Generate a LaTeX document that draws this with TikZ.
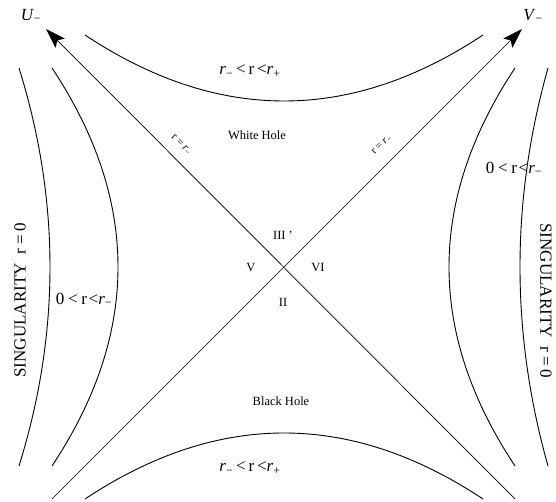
\documentclass[tikz,border=0pt]{standalone}
\usepackage{fontspec}
\setmainfont{Liberation Serif}
\usetikzlibrary{arrows.meta, calc}
\definecolor{ink}{HTML}{000000}
% constant-r branch: rotation, vertex distance, end distance
\NewDocumentCommand{\Branch}{O{0} m m}{
    \begin{scope}[rotate=#1]
    \draw[curve] (-199,#3) .. controls (-66.3,{#3+4/3*(#2-#3)}) and (66.3,{#3+4/3*(#2-#3)}) .. (199,#3);
    \end{scope}
}
\newcommand{\Canvas}{
\useasboundingbox (-284,-235) rectangle (272,267);
    \coordinate (center) at (0,0);
    \coordinate (south-west) at (-232,-232);
    \coordinate (north-east) at ( 238, 238);
    \coordinate (south-east) at ( 231,-232);
    \coordinate (north-west) at (-238, 238);
}

\begin{document}
\begin{tikzpicture}[x=1pt, y=1pt,
    curve/.style={ink, line width=0.9pt},
    axis/.style={ink, line width=0.7pt},
    tip/.style={-{Stealth[length=20pt, width=13pt, inset=4pt]}},
    big/.style={font=\fontsize{17}{20}\selectfont},
    mid/.style={font=\fontsize{12.5}{15}\selectfont},
    small/.style={font=\fontsize{11}{13}\selectfont}]
\Canvas

\draw[axis, tip] (south-east) -- (north-west);
\draw[axis, tip] (south-west) -- (north-east);

\Branch{166}{232}
\Branch[180]{166}{232}
\Branch[90]{166}{232}
\Branch[90]{234}{265}
\Branch[-90]{165}{231}
\Branch[-90]{236}{264}

\node[big] (U) at (-253,251) {\textit{U}\textsubscript{−}};
\node[big] (V) at (249,251) {\textit{V}\textsubscript{−}};

\node[big] (top-band) at (-34,196) {\textit{r}\textsubscript{−}\,<\,r\,<\textit{r}\textsubscript{+}};
\node[big] (bottom-band) at (-34,-201) {\textit{r}\textsubscript{−}\,<\,r\,<\textit{r}\textsubscript{+}};

\node[mid] (white) at (-27,132) {White Hole};
\node[mid] (black) at (-3,-134) {Black Hole};

\node[small, rotate=-45] (left-hor) at (-103,122) {r = \textit{r}\textsubscript{−}};
\node[small, rotate=45] (right-hor) at (98,122) {r = \textit{r}\textsubscript{−}};

\node[big] (left-band) at (-200,-33) {0\hspace{0.22em}<\hspace{0.22em}r\hspace{0.1em}<\textit{r}\textsubscript{−}};
\node[big] (right-band) at (230,98) {0\hspace{0.22em}<\hspace{0.22em}r\hspace{0.1em}<\textit{r}\textsubscript{−}};

\node[big, rotate=90] (left-sing) at (-264,-33) {SINGULARITY\ \ r = 0};
\node[big, rotate=-90] (right-sing) at (262,-34) {SINGULARITY\ \ r = 0};

\node[mid] (III) at (-1,32) {III '};
\node[mid] (V-region) at (-33,-1) {V};
\node[mid] (VI) at (34,-1) {VI};
\node[mid] (II) at (-1,-35) {II};

\end{tikzpicture}
\end{document}
